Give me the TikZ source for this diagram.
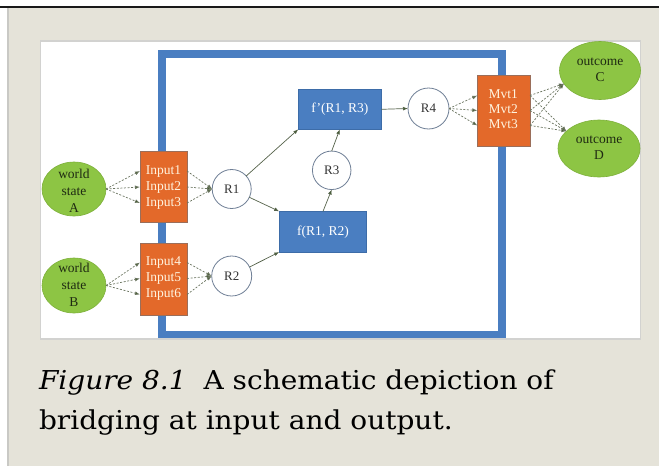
\documentclass[tikz,border=0pt]{standalone}
\usepackage{fontspec}
\setmainfont{Liberation Serif}
\newfontfamily\capfont[FakeStretch=1.077]{DejaVu Serif}
\usetikzlibrary{shapes.geometric,arrows.meta}

\definecolor{pagebeige}{HTML}{E5E3D9}
\definecolor{panelrule}{HTML}{C9C9C5}
\definecolor{figrule}{HTML}{D2D2D0}
\definecolor{frameblue}{HTML}{4A7EC1}
\definecolor{boxedge}{HTML}{3D6CA8}
\definecolor{rust}{HTML}{E3692A}
\definecolor{rustedge}{HTML}{9A6E5A}
\definecolor{leafgreen}{HTML}{8DC544}
\definecolor{leafedge}{HTML}{7DB03A}
\definecolor{ringgray}{HTML}{6F7F96}
\definecolor{linkgreen}{HTML}{55634A}
\definecolor{dashgreen}{HTML}{6B7560}
\definecolor{tipgreen}{HTML}{3E5A28}
\definecolor{cream}{HTML}{FFF3DE}
\definecolor{darkleaf}{HTML}{1F2A12}

\begin{document}
\begin{tikzpicture}[x=1pt,y=-1pt,
  every node/.style={inner sep=0pt,outer sep=0pt},
  ovalnode/.style={ellipse,fill=leafgreen,draw=leafedge,line width=0.6pt},
  ovaltext/.style={align=center,text=darkleaf,font=\fontsize{13.5}{17}\selectfont},
  orangebox/.style={rectangle,fill=rust,draw=rustedge,line width=0.8pt},
  bluebox/.style={rectangle,fill=frameblue,draw=boxedge,line width=0.8pt,
    text=white,font=\fontsize{13.5}{16}\selectfont},
  boxline/.style={text=cream,font=\fontsize{13.5}{16}\selectfont,
    text height=9pt,text depth=3pt},
  roundnode/.style={circle,draw=ringgray,fill=white,line width=0.8pt,
    text=black!80,font=\fontsize{13}{16}\selectfont},
  flow/.style={draw=linkgreen,line width=0.7pt,
    -{Latex[length=5pt,width=3.8pt,fill=tipgreen]}},
  dashflow/.style={flow,draw=dashgreen,dash pattern=on 2pt off 1.6pt},
  captext/.style={anchor=base west,font=\capfont\fontsize{26}{31}\selectfont}
]
% page, panel and figure area
\useasboundingbox (0,0) rectangle (659,466);
\fill[white] (0,0) rectangle (659,466);
\fill[pagebeige] (7.5,7.5) rectangle (659,466);
\draw[panelrule,line width=1.5pt] (8,8) -- (8,466);
\draw[black!90,line width=2pt] (0,6.5) -- (659,6.5);
\draw[figrule,line width=1.5pt,fill=white] (40.5,41) rectangle (640.5,339);

% blue frame
\draw[frameblue,line width=7.5pt] (162,54) rectangle (502,334.5);

% world states
\node[ovalnode,minimum width=64pt,minimum height=54pt] (wsA) at (74,189) {};
\node[ovaltext] (wsAt) at (74,191) {world\\state\\A};
\node[ovalnode,minimum width=64pt,minimum height=55pt] (wsB) at (74,285.5) {};
\node[ovaltext] (wsBt) at (74,284.5) {world\\state\\B};

% outcomes
\node[ovalnode,minimum width=81pt,minimum height=58pt] (oC) at (600,70.5) {};
\node[ovaltext,font=\fontsize{13.5}{15.5}\selectfont] (oCt) at (600,70) {outcome\\C};
\node[ovalnode,minimum width=82pt,minimum height=57pt] (oD) at (599,148.5) {};
\node[ovaltext,font=\fontsize{13.5}{16.5}\selectfont] (oDt) at (599,147.5) {outcome\\D};

% input blocks
\node[orangebox,minimum width=47pt,minimum height=71pt] (inA) at (163.5,187.2) {};
\node[boxline] (in1) at (163.5,171) {Input1};
\node[boxline] (in2) at (163.5,187) {Input2};
\node[boxline] (in3) at (163.5,203) {Input3};
\node[orangebox,minimum width=47pt,minimum height=72pt] (inB) at (163.5,278.9) {};
\node[boxline] (in4) at (163.5,262.5) {Input4};
\node[boxline] (in5) at (163.5,278.5) {Input5};
\node[boxline] (in6) at (163.5,294.5) {Input6};

% movement block
\node[orangebox,minimum width=52.7pt,minimum height=71.7pt] (mv) at (503.7,110.9) {};
\node[boxline] (m1) at (503.2,95.5) {Mvt1};
\node[boxline] (m2) at (503.2,110.5) {Mvt2};
\node[boxline] (m3) at (503.2,125.5) {Mvt3};

% representations
\node[roundnode,minimum size=39pt] (R1) at (231.7,189) {R1};
\node[roundnode,minimum size=40pt] (R2) at (231.7,276) {R2};
\node[roundnode,minimum size=38.5pt] (R3) at (331.7,170.3) {R3};
\node[roundnode,minimum size=41pt] (R4) at (428.5,108.5) {R4};

% functions
\node[bluebox,minimum width=83pt,minimum height=40pt] (fp) at (339.8,109.3) {f'(R1, R3)};
\node[bluebox,minimum width=87.5pt,minimum height=40.7pt] (f) at (323,231.7) {f(R1, R2)};

% dashed bridges at input
\foreach \l in {in1,in2,in3} {
  \draw[dashflow] (wsA.east) -- (inA.west |- \l);
  \draw[dashflow] (inA.east |- \l) -- (R1.west);
}
\foreach \l in {in4,in5,in6} {
  \draw[dashflow] (wsB.east) -- (inB.west |- \l);
  \draw[dashflow] (inB.east |- \l) -- (R2.west);
}

% solid flow
\draw[flow] (R1) -- (fp.south west);
\draw[flow] (R1) -- (f.north west);
\draw[flow] (R2) -- (f.south west);
\draw[flow] (f.north) -- (R3.south);
\draw[flow] (R3.north) -- (fp.south);
\draw[flow] (fp.east) -- (R4.west);

% dashed bridges at output
\foreach \l in {m1,m2,m3} {
  \draw[dashflow] (R4.east) -- (mv.west |- \l);
  \draw[dashflow] (mv.east |- \l) -- (oC.200);
  \draw[dashflow] (mv.east |- \l) -- (oD.152);
}

% caption
\node[captext] (cap1) at (39,389)
  {\itshape Figure 8.1\hspace{0.65em}\upshape A schematic depiction of};
\node[captext] (cap2) at (39,429) {bridging at input and output.};
\end{tikzpicture}
\end{document}
